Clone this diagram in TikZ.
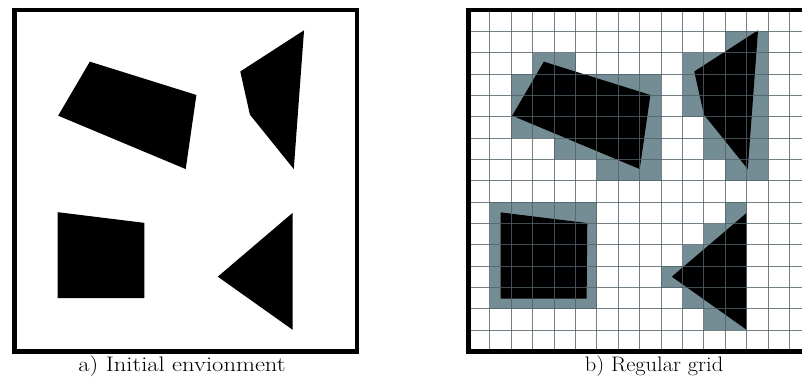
\documentclass[tikz,border=0pt]{standalone}
\definecolor{cellgray}{RGB}{116,140,148}
\definecolor{gridline}{RGB}{80,98,104}
\tikzset{
  frame/.style={draw=black, line width=4.3pt},
  obst/.style={fill=black, draw=none},
  occ/.style={fill=cellgray, draw=none},
  gridln/.style={draw=gridline, line width=0.9pt, opacity=0.8},
  caption/.style={font=\fontsize{21}{25}\selectfont, anchor=base, inner sep=0pt}
}
\begin{document}
\begin{tikzpicture}[x=1pt,y=-1pt]
\useasboundingbox (0,0) rectangle (802,385);
\clip (0,0) rectangle (802,385);
% ---------- left panel ----------
\begin{scope}[shift={(14.5,10)}, x=21.4pt, y=-21.35pt]
  \fill[obst] (3.52,2.42) -- (8.5,3.98) -- (8.0,7.45) -- (2.04,4.95) -- cycle;
  \fill[obst] (13.53,0.95) -- (13.05,7.45) -- (11.0,4.9) -- (10.55,2.88) -- cycle;
  \fill[obst] (2.02,9.47) -- (6.07,9.97) -- (6.07,13.5) -- (2.02,13.5) -- cycle;
  \fill[obst] (13.0,9.5) -- (13.0,14.98) -- (9.5,12.49) -- cycle;
  \draw[frame] (0,0) rectangle (16,16);
\end{scope}
\node[caption] (capA) at (182,371) {\scalebox{1.17}[1]{a) Initial envionment}};
% ---------- right panel ----------
\begin{scope}[shift={(468.5,10)}, x=21.4pt, y=-21.35pt]
  % occupied cells
  \fill[occ] (3,2) rectangle (5,3);
  \fill[occ] (2,3) rectangle (9,6);
  \fill[occ] (4,6) rectangle (9,7);
  \fill[occ] (6,7) rectangle (9,8);
  \fill[occ] (12,1) rectangle (14,2);
  \fill[occ] (10,2) rectangle (14,5);
  \fill[occ] (11,5) rectangle (14,7);
  \fill[occ] (12,7) rectangle (14,8);
  \fill[occ] (1,9) rectangle (6,14);
  \fill[occ] (12,9) rectangle (13,10);
  \fill[occ] (11,10) rectangle (13,11);
  \fill[occ] (10,11) rectangle (13,12);
  \fill[occ] (9,12) rectangle (13,13);
  \fill[occ] (10,13) rectangle (13,14);
  \fill[occ] (11,14) rectangle (13,15);
  % obstacles
  \fill[obst] (3.52,2.42) -- (8.5,3.98) -- (8.0,7.45) -- (2.04,4.95) -- cycle;
  \fill[obst] (13.53,0.95) -- (13.05,7.45) -- (11.0,4.9) -- (10.55,2.88) -- cycle;
  \fill[obst] (1.5,9.48) -- (5.55,9.98) -- (5.52,13.52) -- (1.5,13.52) -- cycle;
  \fill[obst] (13.0,9.5) -- (13.0,14.98) -- (9.5,12.49) -- cycle;
  % grid
  \foreach \i in {1,...,15} {
    \draw[gridln] (\i,0) -- (\i,16);
    \draw[gridln] (0,\i) -- (16,\i);
  }
  \draw[frame] (0,0) rectangle (16,16);
\end{scope}
\node[caption] (capB) at (654,371) {\scalebox{1.07}[1]{b) Regular grid}};
\end{tikzpicture}
\end{document}
